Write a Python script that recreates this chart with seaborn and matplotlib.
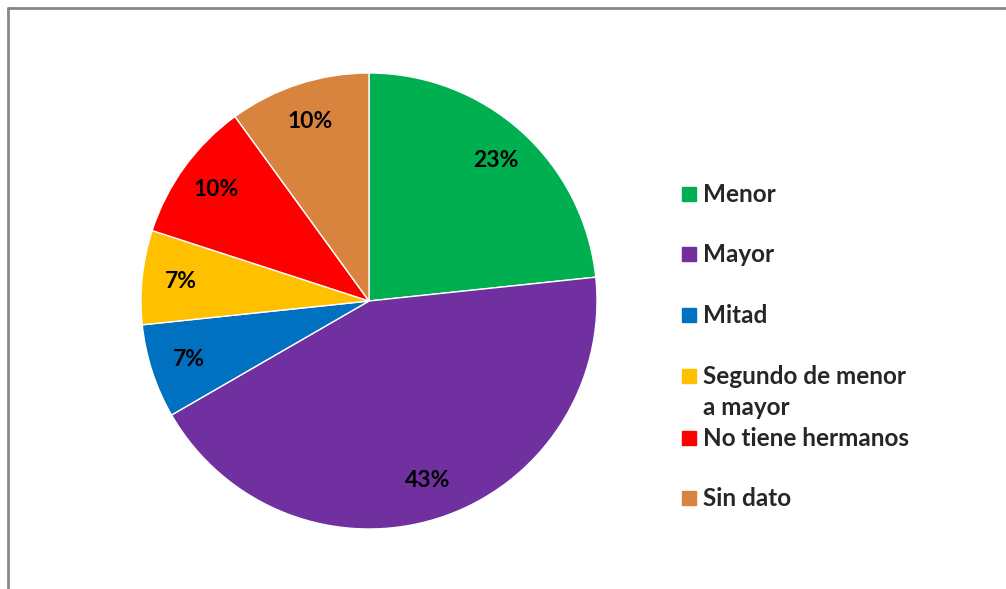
import matplotlib
matplotlib.use("Agg")
import matplotlib.pyplot as plt
import seaborn as sns
from matplotlib.patches import Rectangle
from matplotlib.lines import Line2D

# datos: numero de estudiantes por posicion entre hermanos
categorias = ["Menor", "Mayor", "Mitad", "Segundo de menor\na mayor",
              "No tiene hermanos", "Sin dato"]
cantidades = [7, 13, 2, 2, 3, 3]
colores = ["#00B050", "#7030A0", "#0070C0", "#FFC000", "#FF0000", "#D8843E"]

sns.set_theme(style="white")
plt.rcParams["font.family"] = ["Lato", "DejaVu Sans"]

W, H = 1006, 589
fig = plt.figure(figsize=(W / 100, H / 100), dpi=100)

# marco gris (solo se ven borde superior e izquierdo)
fig.add_artist(Line2D([7.5 / W, 7.5 / W], [0, 1 - 7.5 / H], transform=fig.transFigure,
                      color="#878787", lw=2))
fig.add_artist(Line2D([7.5 / W, 1], [1 - 7.5 / H, 1 - 7.5 / H], transform=fig.transFigure,
                      color="#878787", lw=2))

cx, cy, r = 369, 301, 228
ax = fig.add_axes([(cx - r) / W, 1 - (cy + r) / H, 2 * r / W, 2 * r / H])
wedges, textos, pcts = ax.pie(
    cantidades, colors=sns.color_palette(colores), startangle=90, counterclock=False,
    autopct="%1.0f%%", pctdistance=0.83,
    wedgeprops=dict(edgecolor="white", linewidth=1),
    textprops=dict(fontsize=16.5, fontweight="bold", color="black"))
ax.set_aspect("equal")
ax.set_xlim(-1, 1)
ax.set_ylim(-1, 1)
ax.axis("off")

# leyenda manual estilo Excel
ys = [194, 254, 315, 376, 438, 498]
for cat, col, y in zip(categorias, colores, ys):
    fig.add_artist(Rectangle((682 / W, 1 - (y + 7) / H), 14 / W, 14 / H,
                             transform=fig.transFigure, color=col))
    if "\n" in cat:
        fig.text(703 / W, 1 - (y + 16) / H, cat, fontsize=17.5, fontweight="bold",
                 va="center", ha="left", linespacing=1.45)
    else:
        fig.text(703 / W, 1 - y / H, cat, fontsize=17.5, fontweight="bold",
                 va="center", ha="left")

fig.savefig("out.png", dpi=100)
